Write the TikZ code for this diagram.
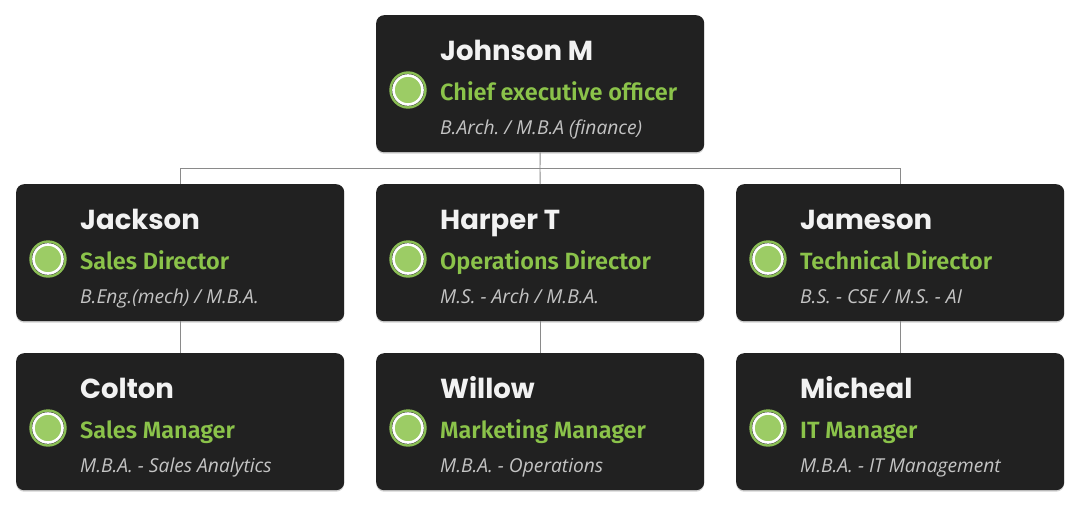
\documentclass[tikz,border=0pt]{standalone}
\usepackage{fontspec}
\setmainfont{Open Sans}
\newfontfamily\namefont{Poppins}
\newfontfamily\titlefont{Fira Sans SemiBold}
\newfontfamily\degfont{Open Sans}
\usetikzlibrary{shadows}
\frenchspacing
\definecolor{boxbg}{HTML}{212121}
\definecolor{titlegreen}{HTML}{8BC34A}
\definecolor{dotgreen}{HTML}{9CCC65}
\definecolor{dotring}{HTML}{8BBF55}
\definecolor{namewhite}{HTML}{F2F2F2}
\definecolor{deggrey}{HTML}{C4C4C4}
\definecolor{linegrey}{HTML}{8A8A8A}
\tikzset{
  card/.style={draw=none, fill=boxbg, rounded corners=8pt, minimum width=328pt, minimum height=137pt, inner sep=0pt, anchor=north west,
    drop shadow={shadow xshift=0pt, shadow yshift=-1.5pt, opacity=0.18, fill=black}},
  nametext/.style={anchor=base west, inner sep=0pt, text=namewhite, font=\namefont\bfseries\fontsize{27.5}{30}\selectfont},
  titletext/.style={anchor=base west, inner sep=0pt, text=titlegreen, font=\titlefont\fontsize{23.5}{26}\selectfont},
  degtext/.style={anchor=base west, inner sep=0pt, text=deggrey, font=\degfont\itshape\fontsize{19.2}{22}\selectfont},
  dot/.style={circle, fill=dotgreen, draw=white, line width=2.6pt, minimum size=29pt, inner sep=0pt},
  dotouter/.style={circle, draw=dotring, line width=2.4pt, minimum size=35pt, inner sep=0pt},
  link/.style={draw=linegrey, line width=0.9pt}
}
\newcommand{\personcard}[6]{%
  \node[card] (#1) at (#2,#3) {};
  \node[dotouter] (#1-o) at (#2+32,#3+75) {};
  \node[dot] (#1-c) at (#2+32,#3+75) {};
  \node[nametext] (#1-n) at (#2+64,#3+45) {#4};
  \node[titletext] (#1-t) at (#2+64,#3+85) {#5};
  \node[degtext] (#1-d) at (#2+64,#3+119) {#6};
}
\begin{document}
\begin{tikzpicture}[x=1pt,y=-1pt]
\useasboundingbox (0,0) rectangle (1082,512);
\fill[white] (0,0) rectangle (1082,512);
\personcard{ceo}{376}{15}{Johnson M}{Chief executive officer}{B.Arch. / M.B.A (finance)}
\personcard{sd}{16}{184}{Jackson}{Sales Director}{B.Eng.(mech) / M.B.A.}
\personcard{od}{376}{184}{Harper T}{Operations Director}{M.S. - Arch / M.B.A.}
\personcard{td}{736}{184}{Jameson}{Technical Director}{B.S. - CSE / M.S. - AI}
\personcard{sm}{16}{353}{Colton}{Sales Manager}{M.B.A. - Sales Analytics}
\personcard{mm}{376}{353}{Willow}{Marketing Manager}{M.B.A. - Operations}
\personcard{itm}{736}{353}{Micheal}{IT Manager}{M.B.A. - IT Management}
\coordinate (bus) at (540,168.5);
\draw[link] (ceo.south) -- (bus);
\draw[link] (sd.north) |- (bus) -| (td.north);
\draw[link] (bus) -- (od.north);
\draw[link] (sd.south) -- (sm.north);
\draw[link] (od.south) -- (mm.north);
\draw[link] (td.south) -- (itm.north);
\end{tikzpicture}
\end{document}
